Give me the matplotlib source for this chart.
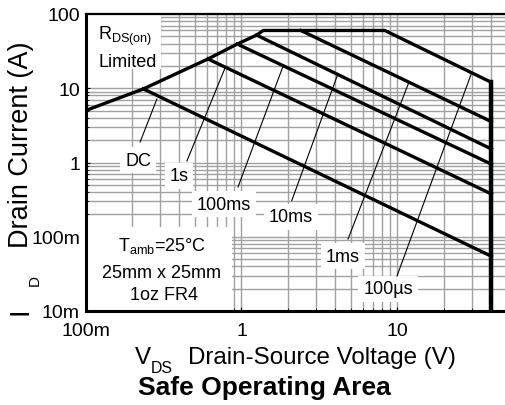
import matplotlib
matplotlib.use("Agg")
import matplotlib.pyplot as plt
from matplotlib.ticker import FixedLocator, FixedFormatter, LogLocator, NullFormatter
from matplotlib.patches import Rectangle

plt.rcParams['font.family'] = ['Liberation Sans', 'DejaVu Sans']
plt.rcParams['mathtext.fontset'] = 'custom'
plt.rcParams['mathtext.rm'] = 'Liberation Sans'
plt.rcParams['mathtext.it'] = 'Liberation Sans:italic'
plt.rcParams['mathtext.bf'] = 'Liberation Sans:bold'

# ---- data ----
x_ticks = [0.1, 1, 10]
x_tick_labels = ['100m', '1', '10']
y_ticks = [0.01, 0.1, 1, 10, 100]
y_tick_labels = ['10m', '100m', '1', '10', '100']

# SOA envelope: RDS(on) limit, current limit, 100us line, voltage limit
env_v = [0.1, 0.235, 0.61, 0.94, 1.25, 1.38, 8.3, 40, 40]
env_i = [5.0, 9.8, 24.8, 39.4, 52, 60, 60, 12, 0.01]
vmax_v = [40, 40]
vmax_i = [12, 0.01]

# pulse-width lines (start, end at 40 V)
dc_v, dc_i = [0.235, 40], [9.8, 0.0546]
s1_v, s1_i = [0.61, 40], [24.8, 0.377]
ms100_v, ms100_i = [0.94, 40], [39.4, 0.95]
ms10_v, ms10_i = [1.25, 40], [52, 1.52]
ms1_v, ms1_i = [2.4, 40], [60, 3.55]

# labels and leader lines
labels = ['DC', '1s', '100ms', '10ms', '1ms', '100\u00b5s']
label_v = [0.217, 0.398, 0.772, 2.08, 4.47, 8.69]
label_i = [1.08, 0.658, 0.276, 0.1845, 0.055, 0.0198]
lead_v0 = [0.287, 0.784, 1.85, 4.15, 11.85, 30.0]
lead_i0 = [7.17, 18.7, 20.0, 15.6, 12.1, 16.5]
lead_v1 = [0.224, 0.447, 0.95, 2.10, 4.82, 9.93]
lead_i1 = [1.89, 1.05, 0.468, 0.306, 0.0932, 0.0296]

W, H = 505, 406
fig = plt.figure(figsize=(W / 100, H / 100), dpi=100)
ax = fig.add_axes([85.5 / W, (H - 312) / H, 421 / W, 297 / H])
ax.set_xscale('log')
ax.set_yscale('log')
ax.set_xlim(0.1, 50)
ax.set_ylim(0.01, 100)

ax.xaxis.set_major_locator(FixedLocator(x_ticks))
ax.xaxis.set_major_formatter(FixedFormatter(x_tick_labels))
ax.yaxis.set_major_locator(FixedLocator(y_ticks))
ax.yaxis.set_major_formatter(FixedFormatter(y_tick_labels))
ax.xaxis.set_minor_locator(LogLocator(base=10, subs=range(2, 10)))
ax.yaxis.set_minor_locator(LogLocator(base=10, subs=range(2, 10)))
ax.xaxis.set_minor_formatter(NullFormatter())
ax.yaxis.set_minor_formatter(NullFormatter())
ax.grid(True, which='both', color='#a0a0a0', lw=1.0, zorder=0)
ax.set_axisbelow(True)
ax.tick_params(axis='both', which='both', direction='in', color='black', labelsize=14)
ax.tick_params(axis='both', which='major', length=3)
ax.tick_params(axis='both', which='minor', length=2)
ax.tick_params(axis='x', pad=8)
ax.tick_params(axis='y', pad=4)

for s in ['left', 'bottom']:
    ax.spines[s].set_linewidth(2.2)
ax.spines['top'].set_linewidth(1.6)
ax.spines['right'].set_visible(False)

# white boxes hiding grid
ax.add_patch(Rectangle((0, (312 - 70) / 297), (161 - 85.5) / 421, 1, transform=ax.transAxes,
                       facecolor='white', edgecolor='none', zorder=1))
ax.add_patch(Rectangle((0, 0), (232 - 85.5) / 421, (312 - 228) / 297, transform=ax.transAxes,
                       facecolor='white', edgecolor='none', zorder=1))

lw = 2.4
ax.plot(env_v, env_i, color='black', lw=lw, zorder=5, solid_joinstyle='miter')
ax.plot(vmax_v, vmax_i, color='black', lw=3.2, zorder=5)
for v, i in [(dc_v, dc_i), (s1_v, s1_i), (ms100_v, ms100_i), (ms10_v, ms10_i), (ms1_v, ms1_i)]:
    ax.plot(v, i, color='black', lw=lw, zorder=5)

for k in range(len(labels)):
    ax.plot([lead_v0[k], lead_v1[k]], [lead_i0[k], lead_i1[k]], color='black', lw=0.8, zorder=4)
    ax.text(label_v[k], label_i[k], labels[k], ha='center', va='center', fontsize=13, zorder=3,
            bbox=dict(facecolor='white', edgecolor='none', pad=3.5))

def fx(x):
    return x / W

def fy(y):
    return 1 - y / H

fig.text(fx(98), fy(36), r'$\mathregular{R_{DS(on)}}$', fontsize=13, ha='left', va='center')
fig.text(fx(99), fy(62.5), 'Limited', fontsize=13, ha='left', va='center')

fig.text(fx(162), fy(246), r'$\mathregular{T_{amb}}$=25°C', fontsize=13, ha='center', va='center')
fig.text(fx(161), fy(274), '25mm x 25mm', fontsize=13, ha='center', va='center')
fig.text(fx(164), fy(296), '1oz FR4', fontsize=13, ha='center', va='center')

# axis labels
fig.text(fx(142.5), fy(358), 'V', fontsize=17.4, ha='center', va='center')
fig.text(fx(161.7), fy(369), 'DS', fontsize=11.4, ha='center', va='center')
fig.text(fx(188), fy(358), 'Drain-Source Voltage (V)', fontsize=17.4, ha='left', va='center')
fig.text(fx(264), fy(388), 'Safe Operating Area', fontsize=19, fontweight='bold', ha='center', va='center')

fig.text(fx(21), fy(145), 'Drain Current (A)', fontsize=19.5, rotation=90, ha='center', va='center')
fig.text(fx(21), fy(311), 'I', fontsize=19.5, rotation=90, ha='center', va='center')
fig.text(fx(35), fy(280), 'D', fontsize=11, rotation=90, ha='center', va='center')

fig.savefig('out.png', dpi=100)
